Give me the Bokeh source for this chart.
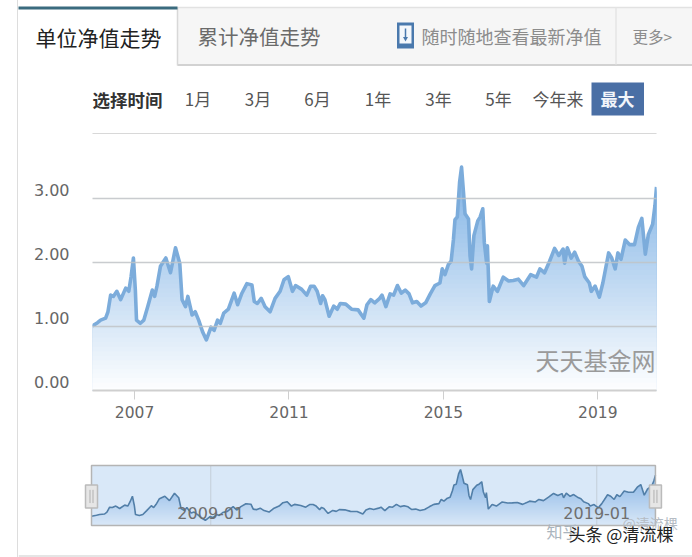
from bokeh.plotting import figure
from bokeh.layouts import column
from bokeh.models import FixedTicker, NumeralTickFormatter, Range1d, Label, LinearAxis
from bokeh.core.properties import value
from bokeh.embed import file_html
from bokeh.resources import INLINE
import numpy as np

CJK = "Noto Sans CJK SC"
LAT = "DejaVu Sans"

years = [2005.91,2006.04,2006.12,2006.25,2006.31,2006.38,2006.45,2006.54,2006.64,2006.77,2006.85,2006.91,2006.97,
 2007.02,2007.05,2007.15,2007.24,2007.34,2007.46,2007.52,2007.58,2007.67,2007.81,2007.93,
 2008.06,2008.17,2008.23,2008.32,2008.38,2008.49,2008.57,2008.66,2008.76,2008.86,2008.98,
 2009.06,2009.15,2009.22,2009.31,2009.43,2009.58,2009.67,2009.78,2009.91,
 2010.04,2010.10,2010.18,2010.28,2010.38,2010.51,2010.64,2010.77,2010.87,2010.98,
 2011.09,2011.17,2011.33,2011.46,2011.56,2011.65,2011.73,2011.82,2011.87,2011.93,
 2012.04,2012.16,2012.25,2012.33,2012.47,2012.62,2012.79,2012.94,
 2013.02,2013.12,2013.22,2013.35,2013.41,2013.51,2013.62,2013.71,2013.81,2013.91,
 2014.01,2014.11,2014.20,2014.31,2014.42,2014.54,2014.66,2014.78,2014.91,2014.97,
 2015.04,2015.13,2015.20,2015.26,2015.30,2015.36,2015.42,2015.47,2015.52,2015.56,2015.65,2015.69,2015.73,2015.79,2015.89,2015.95,
 2016.02,2016.06,2016.12,2016.14,2016.19,2016.29,2016.40,2016.55,2016.69,2016.81,2016.94,
 2017.08,2017.26,2017.41,2017.50,2017.62,2017.75,2017.88,2017.99,
 2018.10,2018.14,2018.21,2018.31,2018.40,2018.50,2018.59,2018.66,2018.78,2018.83,2018.93,
 2019.04,2019.13,2019.28,2019.36,2019.45,2019.52,2019.60,2019.71,2019.82,2019.95,
 2020.05,2020.14,2020.23,2020.31,2020.42,2020.48,2020.52]

nav = [1.01,1.06,1.10,1.13,1.23,1.49,1.47,1.55,1.42,1.60,1.55,1.78,2.07,
 1.57,1.10,1.05,1.10,1.31,1.57,1.47,1.63,1.94,2.07,1.84,
 2.23,1.99,1.42,1.31,1.47,1.18,1.23,1.10,0.92,0.79,0.99,
 0.94,1.10,1.05,1.21,1.27,1.52,1.34,1.52,1.67,
 1.65,1.39,1.36,1.44,1.31,1.23,1.44,1.55,1.73,1.78,
 1.55,1.64,1.58,1.49,1.63,1.63,1.55,1.36,1.48,1.42,
 1.16,1.32,1.27,1.36,1.35,1.27,1.26,1.13,
 1.34,1.42,1.37,1.44,1.49,1.31,1.51,1.49,1.64,1.52,
 1.57,1.51,1.37,1.39,1.32,1.37,1.51,1.64,1.68,1.90,
 1.81,1.97,2.02,2.36,2.67,2.71,3.26,3.49,3.10,2.76,2.68,2.10,1.90,2.42,2.65,2.71,
 2.84,2.31,1.99,2.26,1.39,1.63,1.55,1.77,1.71,1.72,1.74,
 1.64,1.81,1.77,1.90,1.84,2.02,2.22,2.11,
 2.21,1.99,2.23,2.07,2.16,2.02,1.94,1.78,1.68,1.55,1.63,
 1.46,1.68,2.15,2.07,1.90,2.15,2.05,2.35,2.28,2.28,
 2.55,2.69,2.13,2.44,2.60,2.89,3.18]

y_ticks = [0, 1, 2, 3]
x_ticks = [2007, 2011, 2015, 2019]
nav_marks = [2009.0, 2019.0]
nav_mark_labels = ["2009-01", "2019-01"]

tabs = ["单位净值走势", "累计净值走势"]
promo = "随时随地查看最新净值"
more = "更多>"
pick_label = "选择时间"
ranges = ["1月", "3月", "6月", "1年", "3年", "5年", "今年来"]
range_x = [197.5, 257.5, 317, 377.5, 438, 498, 557.5]
active_range = "最大"

x = np.array(years)
v = np.array(nav)


def mix(c0, c1, t):
    return "#%02x%02x%02x" % tuple(int(round(a + (b - a) * t)) for a, b in zip(c0, c1))


def base_fig(w, h, xr, yr):
    p = figure(width=w, height=h, x_range=Range1d(*xr), y_range=Range1d(*yr),
               output_backend="svg", toolbar_location=None,
               x_axis_type=None, y_axis_type=None,
               min_border=0, min_border_left=0, min_border_right=0,
               min_border_top=0, min_border_bottom=0)
    p.outline_line_color = None
    p.grid.visible = False
    p.frame_align = False
    return p


# ---------------- header (tabs and range selector), axes in window pixels
W = 674
head = base_fig(W, 134, (18, 692), (134, 0))
head.quad(left=[177], right=[692], top=[7], bottom=[64], fill_color="#f6f6f6", line_color=None)
head.segment(x0=[177], y0=[7], x1=[692], y1=[7], line_color="#e2e2e2", line_width=1.5)
head.segment(x0=[177], y0=[64.5], x1=[692], y1=[64.5], line_color="#d2d2d2", line_width=2)
head.segment(x0=[177], y0=[7], x1=[177], y1=[65], line_color="#d8d8d8", line_width=1.5)
head.segment(x0=[615.5], y0=[7], x1=[615.5], y1=[64], line_color="#e4e4e4", line_width=1.5)
head.quad(left=[17], right=[177], top=[6], bottom=[9], fill_color="#3a6b7e", line_color=None)
head.segment(x0=[92], y0=[133.3], x1=[656], y1=[133.3], line_color="#d8d8d8", line_width=1.5)


def t(p, px, py, s, size, color, align="left", bold=False, font=CJK, alpha=1.0):
    p.text(x=[px], y=[py], text=[s], text_font=value(font), text_font_size=f"{size}px",
           text_color=color, text_align=align, text_baseline="middle",
           text_font_style="bold" if bold else "normal", text_alpha=alpha)


t(head, 35, 36.5, tabs[0], 21, "#222222")
t(head, 197, 35.5, tabs[1], 20.5, "#6a6a6a")
head.quad(left=[396.5], right=[413.5], top=[22], bottom=[48], fill_color="#4a79ad", line_color=None)
head.quad(left=[399], right=[411], top=[25], bottom=[43], fill_color="#f4f7fb", line_color=None)
head.segment(x0=[405], y0=[28], x1=[405], y1=[38], line_color="#4a79ad", line_width=1.5)
head.scatter(x=[405], y=[38], marker="inverted_triangle", size=5, fill_color="#4a79ad", line_color=None)
t(head, 421, 35, promo, 18, "#8c8c8c")
t(head, 632, 35, more, 15.5, "#8c8c8c")
t(head, 92, 99, pick_label, 17.5, "#333333", bold=True)
for s, px in zip(ranges, range_x):
    t(head, px, 98, s, 17, "#555555", align="center")
head.quad(left=[591], right=[643.5], top=[82], bottom=[115], fill_color="#4a6fa5", line_color=None)
t(head, 617, 98, active_range, 17, "#f2f5fa", align="center", bold=True)

# ---------------- main chart
p = figure(width=W, height=291, x_range=Range1d(years[0], years[-1]), y_range=Range1d(0, 4),
           output_backend="svg", toolbar_location=None,
           min_border_left=74, min_border_right=36, min_border_top=0, min_border_bottom=35)
p.frame_align = False
p.outline_line_color = None
p.xgrid.visible = False
p.ygrid.ticker = FixedTicker(ticks=y_ticks)
p.ygrid.grid_line_color = "#bfc3c7"
p.ygrid.grid_line_width = 1.5
p.ygrid.grid_line_alpha = 0.85
p.ygrid.level = "overlay"
p.yaxis.visible = False

# tick labels sit just above their grid lines: they hang off a range nudged by 9px of 64px per unit
lift = 9 / 64
p.extra_y_ranges = {"labels": Range1d(-lift, 4 - lift)}
ya = LinearAxis(y_range_name="labels", ticker=FixedTicker(ticks=y_ticks),
                formatter=NumeralTickFormatter(format="0.00"))
ya.axis_line_color = None
ya.major_tick_line_color = None
ya.minor_tick_line_color = None
ya.major_label_standoff = 17
ya.major_label_text_font = LAT
ya.major_label_text_font_size = "16px"
ya.major_label_text_color = "#666666"
p.add_layout(ya, "left")

p.xaxis.ticker = FixedTicker(ticks=x_ticks)
p.xaxis.formatter = NumeralTickFormatter(format="0")
p.xaxis.axis_line_color = "#cfcfcf"
p.xaxis.axis_line_width = 2
p.xaxis.major_tick_line_color = "#cfcfcf"
p.xaxis.major_tick_in = 0
p.xaxis.major_tick_out = 9
p.xaxis.minor_tick_line_color = None
p.xaxis.major_label_standoff = 6
p.xaxis.major_label_text_font = LAT
p.xaxis.major_label_text_font_size = "15.5px"
p.xaxis.major_label_text_color = "#666666"

low, high = (255, 255, 255), (127, 178, 229)
for lv in np.linspace(3.5, 0.05, 50):
    p.varea(x=x, y1=np.zeros_like(v), y2=np.minimum(v, lv), fill_color=mix(low, high, lv / 3.5))
p.line(x, v, line_color="#7cacdb", line_width=3.6, line_join="round")
p.add_layout(Label(x=655 - 92, y=390 - 359, x_units="screen", y_units="screen", text="天天基金网",
                   text_font=CJK, text_font_size="24px", text_color="#9a9a9a",
                   text_align="right", text_baseline="middle"))

# ---------------- navigator (panel spans window y 425 to 557)
PX = 38.6   # px per year
PY = 18.87  # px per value
nav_top, nav_bottom = 3.70, 0.52
n = base_fig(W, 132,
             (years[0] - (91 - 18) / PX, years[0] + (692 - 91) / PX),
             (nav_top - (557 - 465) / PY, nav_top + 40 / PY))
n.quad(left=[years[0]], right=[years[-1]], top=[nav_top], bottom=[nav_bottom],
       fill_color="#d9e8f8", line_color=None)
nlow, nhigh = (219, 233, 248), (127, 175, 227)
for lv in np.linspace(3.5, 0.6, 40):
    n.varea(x=x, y1=np.full_like(v, nav_bottom), y2=np.minimum(v, lv),
            fill_color=mix(nlow, nhigh, (lv - 0.52) / (3.5 - 0.52)))
n.segment(x0=nav_marks, y0=[nav_bottom] * 2, x1=nav_marks, y1=[nav_top] * 2,
          line_color="#c3ced9", line_width=1)
n.line(x, v, line_color="#527fa8", line_width=1.6)
n.text(x=nav_marks, y=[1.16, 1.16], text=nav_mark_labels, text_font=value(LAT),
       text_font_size="16px", text_color="#6f6f6f", text_align="center", text_baseline="middle")
n.quad(left=[years[0]], right=[years[-1]], top=[nav_top], bottom=[nav_bottom],
       fill_color=None, line_color="#b4b4b4", line_width=1.5)
for hx in (years[0], years[-1]):
    cy = (nav_top + nav_bottom) / 2
    n.rect(x=[hx], y=[cy - 0.05], width=12 / PX, height=23 / PY, fill_color="#e6e6e6",
           line_color="#bbbbbb", line_width=1.5)
    n.segment(x0=[hx - 1.5 / PX, hx + 1.5 / PX], y0=[cy - 0.4] * 2,
              x1=[hx - 1.5 / PX, hx + 1.5 / PX], y1=[cy + 0.3] * 2,
              line_color="#b0b0b0", line_width=1)

stamp_x = lambda px: years[0] + (px - 91) / PX
stamp_y = lambda py: nav_top - (py - 465) / PY
n.segment(x0=[stamp_x(18)], y0=[stamp_y(555.5)], x1=[stamp_x(692)], y1=[stamp_y(555.5)],
          line_color="#dddddd", line_width=1.5)
t(n, stamp_x(546), stamp_y(530), "知乎", 16, "#aab4bd")
t(n, stamp_x(622), stamp_y(522), "@清流棵", 14, "#b5bcc4")
t(n, stamp_x(568), stamp_y(533), "头条 @清流棵", 17, "#ffffff", bold=True)
t(n, stamp_x(568), stamp_y(533), "头条 @清流棵", 17, "#222222")

page = column(head, p, n, spacing=0, margin=(0, 0, 0, 17),
              styles={"border-left": "1px solid #dddddd"})
open("out.html", "w").write(file_html(page, INLINE))
